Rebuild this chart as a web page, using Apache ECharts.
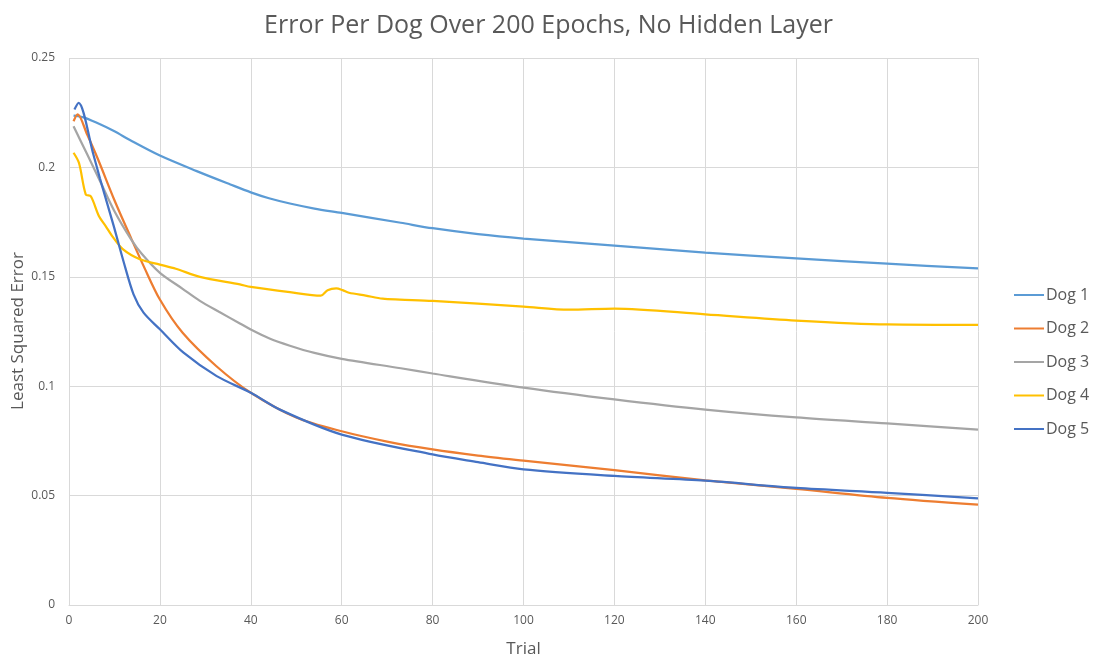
<!DOCTYPE html>
<html>
<head>
<meta charset="utf-8">
<script src="https://cdn.jsdelivr.net/npm/echarts@6/dist/echarts.min.js"></script>
<style>html,body{margin:0;padding:0;background:#fff}#c{width:1097px;height:662px}</style>
</head>
<body>
<div id="c"></div>
<script>
var titleText = 'Error Per Dog Over 200 Epochs, No Hidden Layer';
var xName = 'Trial';
var yName = 'Least Squared Error';
var seriesNames = ['Dog 1', 'Dog 2', 'Dog 3', 'Dog 4', 'Dog 5'];
var seriesColors = ['#5B9BD5', '#ED7D31', '#A5A5A5', '#FFC000', '#4472C4'];

var dog1Trials = [1, 3, 6, 10, 13.4, 20, 28.1, 35.5, 40, 44, 48.6, 54, 60, 73, 80, 90, 100, 120, 140, 160, 180, 200];
var dog1Error = [0.2237, 0.223, 0.2205, 0.2165, 0.2125, 0.2054, 0.1983, 0.1922, 0.1886, 0.1859, 0.1835, 0.1812, 0.1792, 0.1747, 0.1722, 0.1695, 0.1675, 0.1643, 0.161, 0.1584, 0.156, 0.1538];

var dog2Trials = [1, 1.9, 4, 6.4, 10, 13.8, 16.4, 20, 25, 32.5, 40, 50, 60, 70, 80, 90, 100, 120, 140, 160, 180, 200];
var dog2Error = [0.2211, 0.2242, 0.215, 0.2036, 0.185, 0.167, 0.155, 0.1396, 0.1244, 0.109, 0.097, 0.0857, 0.0794, 0.0747, 0.0711, 0.0683, 0.066, 0.0616, 0.057, 0.0531, 0.049, 0.0459];

var dog3Trials = [1, 4, 7, 10, 13.7, 16, 20, 25, 28.8, 33, 37.6, 40, 44, 48.6, 54, 60, 73, 80, 100, 120, 140, 160, 180, 200];
var dog3Error = [0.2188, 0.206, 0.193, 0.18, 0.167, 0.1605, 0.1518, 0.1445, 0.139, 0.134, 0.1287, 0.1259, 0.1219, 0.1185, 0.1152, 0.1125, 0.1082, 0.1058, 0.0994, 0.094, 0.0893, 0.0857, 0.083, 0.0802];

var dog4Trials = [1, 2.2, 3.7, 4.8, 6.6, 8.1, 9.5, 11.9, 15.6, 20, 23.5, 28.8, 37.6, 40, 48.6, 55.4, 56.9, 58.8, 60.2, 61.6, 65.3, 69, 72.8, 80, 100, 110, 120, 140, 160, 180, 200];
var dog4Error = [0.2067, 0.202, 0.1876, 0.1868, 0.1777, 0.1731, 0.1686, 0.1625, 0.158, 0.1556, 0.1537, 0.150, 0.1465, 0.1454, 0.143, 0.1414, 0.1439, 0.1447, 0.1439, 0.1427, 0.1414, 0.140, 0.1396, 0.139, 0.1364, 0.135, 0.1355, 0.1328, 0.130, 0.1282, 0.128];

var dog5Trials = [1.2, 2.1, 5.35, 6.8, 9.8, 12, 14.2, 16.4, 20, 25.2, 32.5, 40, 46.4, 60, 80, 90, 100, 120, 140, 160, 180, 200];
var dog5Error = [0.2265, 0.2295, 0.206, 0.195, 0.1735, 0.157, 0.142, 0.1336, 0.126, 0.1153, 0.1046, 0.097, 0.0893, 0.0779, 0.0688, 0.0653, 0.062, 0.059, 0.0568, 0.0535, 0.0513, 0.0487];

var allTrials = [dog1Trials, dog2Trials, dog3Trials, dog4Trials, dog5Trials];
var allErrors = [dog1Error, dog2Error, dog3Error, dog4Error, dog5Error];

function pairs(xs, ys) { return xs.map(function (x, i) { return [x, ys[i]]; }); }

var textColor = '#595959';
var font = '"Open Sans", "Liberation Sans", sans-serif';

var chart = echarts.init(document.getElementById('c'), null, { renderer: 'canvas' });
chart.setOption({
  animation: false,
  backgroundColor: '#fff',
  title: {
    text: titleText, left: 'center', top: 8,
    textStyle: { fontFamily: font, fontSize: 25, fontWeight: 'normal', color: textColor }
  },
  legend: {
    orient: 'vertical', left: 1009, top: 282, itemGap: 17.5, itemWidth: 30, itemHeight: 2,
    icon: 'rect',
    data: seriesNames,
    textStyle: { fontFamily: font, fontSize: 16, color: textColor, padding: [0, 0, 0, -3] }
  },
  graphic: [{
    type: 'text', x: 18, y: 331, rotation: Math.PI / 2,
    style: { text: yName, fontFamily: font, fontSize: 17, fill: textColor, align: 'center', verticalAlign: 'middle' }
  }],
  grid: { left: 69, right: 119, top: 58, bottom: 57, containLabel: false, outerBoundsMode: 'none' },
  xAxis: {
    type: 'value', min: 0, max: 200, interval: 20,
    name: xName, nameLocation: 'middle', nameGap: 36,
    nameTextStyle: { fontFamily: font, fontSize: 17, color: textColor },
    axisLine: { show: true, lineStyle: { color: '#D9D9D9' } },
    axisTick: { show: false },
    axisLabel: { fontFamily: font, fontSize: 12, color: textColor, margin: 10 },
    splitLine: { show: true, lineStyle: { color: '#D9D9D9' } }
  },
  yAxis: {
    type: 'value', min: 0, max: 0.25, interval: 0.05,
    axisLine: { show: false },
    axisTick: { show: false },
    axisLabel: { fontFamily: font, fontSize: 12, color: textColor, margin: 14 },
    splitLine: { show: true, lineStyle: { color: '#D9D9D9' } }
  },
  series: seriesNames.map(function (n, i) {
    return {
      name: n, type: 'line', smooth: 0.3, symbol: 'none',
      color: seriesColors[i],
      lineStyle: { width: 2.25, color: seriesColors[i] },
      data: pairs(allTrials[i], allErrors[i])
    };
  })
});
</script>
</body>
</html>
